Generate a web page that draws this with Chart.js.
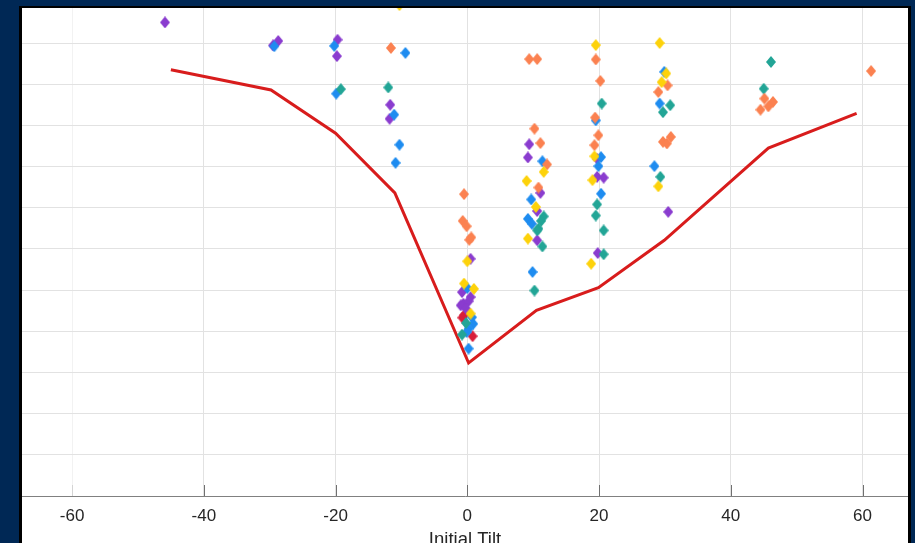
<!DOCTYPE html>
<html lang="en">
<head>
  <meta charset="UTF-8">
  <title>Initial Tilt</title>
  <script src="https://cdn.jsdelivr.net/npm/chart.js"></script>
  <style>
    html, body {
      margin: 0;
      padding: 0;
      width: 915px;
      height: 543px;
      overflow: hidden;
      background: #002855;
    }
    #frame {
      position: absolute;
      left: 19px;
      top: 6px;
      width: 886px;
      height: 560px;
      background: #fff;
      border: 3px solid #000;
      border-top-width: 2px;
      border-bottom: none;
      overflow: hidden;
    }
    canvas { display: block; }
  </style>
</head>
<body>
  <div id="frame">
    <canvas id="tiltChart" width="886" height="548"></canvas>
  </div>

  <script>
    // tick values
    const xTicks = [-60, -40, -20, 0, 20, 40, 60];
    const yTicks = [0, 1, 2, 3, 4, 5, 6, 7, 8, 9, 10, 11];

    // red curve
    const lineX = [-45.0, -29.8, -20.0, -11.0, 0.2, 10.5, 19.9, 29.9, 45.7, 59.1];
    const lineY = [10.35, 9.86, 8.81, 7.36, 3.23, 4.51, 5.06, 6.21, 8.45, 9.29];

    // scatter points [x, y], one list per colour
    const purplePts = [
      [-45.9, 11.50], [-29.5, 10.94], [-28.7, 11.05], [-19.7, 11.08], [-19.8, 10.68],
      [-11.7, 9.50], [-11.8, 9.16], [0.5, 5.76], [-0.8, 4.95], [0.5, 4.83],
      [-0.6, 4.67], [0.2, 4.73], [-1.0, 4.63], [-0.2, 4.55], [9.4, 8.54],
      [9.2, 8.22], [11.1, 7.36], [10.6, 6.92], [10.6, 6.21], [19.7, 8.19],
      [19.7, 7.75], [20.7, 7.73], [19.8, 5.90], [30.5, 6.90]
    ];
    const bluePts = [
      [-29.3, 10.92], [-20.2, 10.93], [-19.9, 9.77], [-9.4, 10.76], [-11.1, 9.26],
      [-10.3, 8.53], [-10.9, 8.09], [0.0, 5.05], [0.7, 4.34], [0.9, 4.18],
      [0.2, 4.06], [-0.1, 3.98], [0.2, 3.58], [11.4, 8.13], [9.7, 7.20],
      [9.2, 6.73], [9.8, 6.61], [9.9, 5.44], [19.5, 9.12], [20.3, 8.23],
      [19.9, 8.01], [20.3, 7.34], [29.9, 10.30], [29.2, 9.53], [28.4, 8.01]
    ];
    const tealPts = [
      [-19.2, 9.88], [-12.0, 9.92], [-0.2, 4.20], [-0.8, 3.92], [11.6, 6.79],
      [11.2, 6.68], [10.8, 6.49], [10.6, 6.45], [11.4, 6.06], [10.2, 4.99],
      [20.4, 9.53], [19.7, 7.08], [19.5, 6.81], [20.7, 6.45], [20.7, 5.87],
      [29.7, 9.32], [30.8, 9.49], [29.3, 7.75], [46.1, 10.54], [45.0, 9.89]
    ];
    const orangePts = [
      [-11.6, 10.88], [-0.5, 7.33], [-0.7, 6.68], [-0.1, 6.55], [0.3, 6.22],
      [0.6, 6.28], [9.4, 10.61], [10.6, 10.61], [10.2, 8.92], [11.1, 8.57],
      [12.1, 8.05], [10.8, 7.49], [19.5, 10.60], [20.2, 10.08], [19.4, 9.19],
      [19.9, 8.76], [19.3, 8.52], [30.4, 9.97], [29.0, 9.81], [29.7, 8.60],
      [30.9, 8.72], [30.3, 8.56], [45.1, 9.65], [46.4, 9.57], [44.5, 9.38],
      [45.7, 9.46], [61.3, 10.32]
    ];
    const yellowPts = [
      [-10.3, 11.92], [0.0, 5.70], [-0.5, 5.16], [1.0, 5.03], [0.5, 4.43],
      [11.6, 7.87], [9.0, 7.65], [10.4, 7.02], [9.2, 6.25], [19.5, 10.95],
      [19.3, 8.25], [19.0, 7.67], [18.8, 5.64], [29.2, 11.00], [30.2, 10.26],
      [29.5, 10.05], [29.0, 7.52]
    ];
    const crimsonPts = [
      [-0.5, 4.39], [-0.75, 4.33], [0.8, 3.88]
    ];

    const toXY = pts => pts.map(p => ({ x: p[0], y: p[1] }));

    // diamond marker, a bit taller than wide
    function diamond(color) {
      const c = document.createElement('canvas');
      c.width = 10;
      c.height = 12;
      const g = c.getContext('2d');
      g.fillStyle = color;
      g.beginPath();
      g.moveTo(5, 0);
      g.lineTo(10, 6);
      g.lineTo(5, 12);
      g.lineTo(0, 6);
      g.closePath();
      g.fill();
      return c;
    }

    function scatterSet(pts, color) {
      return {
        data: toXY(pts),
        pointStyle: diamond(color),
        pointRadius: 5,
        pointBackgroundColor: color,
        pointBorderColor: color,
        showLine: false,
        clip: 0
      };
    }

    // tick marks drawn inside the plot, up from the x axis
    const innerTicks = {
      id: 'innerTicks',
      afterDraw(chart) {
        const sc = chart.scales.x;
        const ctx = chart.ctx;
        const bottom = chart.chartArea.bottom;
        ctx.save();
        ctx.lineWidth = 1;
        sc.ticks.forEach(t => {
          const px = Math.round(sc.getPixelForValue(t.value)) + 0.5;
          ctx.strokeStyle = t.value === -60 ? '#d4d4d4' : '#707070';
          ctx.beginPath();
          ctx.moveTo(px, bottom);
          ctx.lineTo(px, bottom - 11);
          ctx.stroke();
        });
        ctx.restore();
      }
    };

    const font = 'Liberation Sans, Arial, Helvetica, sans-serif';

    new Chart(document.getElementById('tiltChart'), {
      type: 'scatter',
      data: {
        datasets: [
          scatterSet(yellowPts, '#fdd20a'),
          scatterSet(orangePts, '#fb8150'),
          scatterSet(tealPts, '#22a596'),
          scatterSet(bluePts, '#1e8cf0'),
          scatterSet(purplePts, '#8a3ccf'),
          scatterSet(crimsonPts, '#d81e3a'),
          {
            data: lineX.map((x, i) => ({ x, y: lineY[i] })),
            showLine: true,
            borderColor: '#d81c1c',
            borderWidth: 3,
            pointRadius: 0,
            tension: 0,
            clip: 0
          }
        ]
      },
      options: {
        responsive: false,
        animation: false,
        layout: { padding: 0, autoPadding: false },
        plugins: {
          legend: { display: false },
          tooltip: { enabled: false }
        },
        scales: {
          x: {
            type: 'linear',
            min: -67.6,
            max: 66.9,
            afterBuildTicks: s => { s.ticks = xTicks.map(v => ({ value: v })); },
            afterFit: s => { s.height = 60; },
            grid: {
              color: c => (c.tick && c.tick.value === -60) ? '#f2f2f2' : '#e2e2e2',
              drawTicks: false
            },
            border: { color: '#808080' },
            ticks: {
              color: '#262626',
              font: { family: font, size: 17 },
              padding: 10,
              maxRotation: 0,
              autoSkip: false
            },
            title: {
              display: true,
              text: 'Initial Tilt',
              color: '#262626',
              font: { family: font, size: 18.5 },
              padding: { top: 0, bottom: 5 }
            }
          },
          y: {
            type: 'linear',
            min: 0,
            max: 11.85,
            afterBuildTicks: s => { s.ticks = yTicks.map(v => ({ value: v })); },
            afterFit: s => { s.width = 0; },
            grid: { color: '#e2e2e2', drawTicks: false },
            border: { display: false },
            ticks: { display: false }
          }
        }
      },
      plugins: [innerTicks]
    });
  </script>
</body>
</html>
